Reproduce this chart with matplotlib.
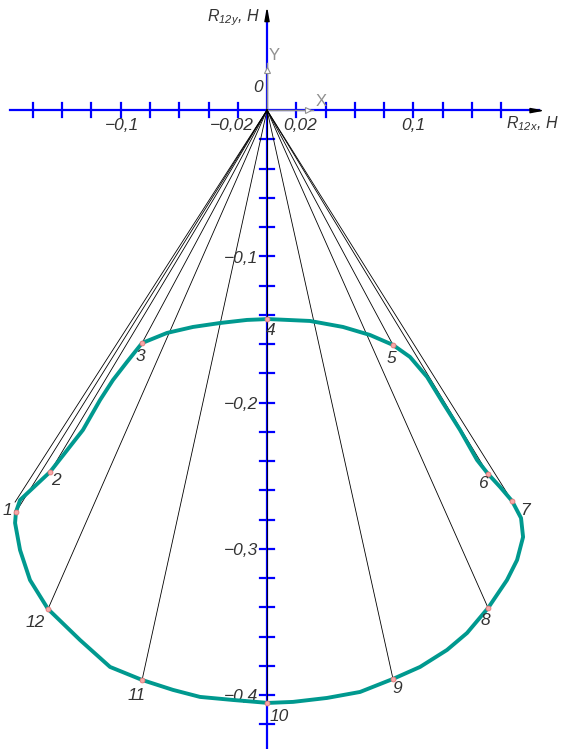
import numpy as np
import matplotlib.pyplot as plt

plt.rcParams['font.family'] = ['Liberation Sans', 'DejaVu Sans']
plt.rcParams['mathtext.fontset'] = 'custom'
plt.rcParams['mathtext.it'] = 'Liberation Sans:italic'
plt.rcParams['mathtext.rm'] = 'Liberation Sans:italic'

# positions 1..12 of the reaction vector end (H)
pt_x = [-0.1716, -0.1483, -0.0854, 0.0, 0.0861, 0.1511,
        0.1675, 0.1511, 0.0861, 0.0, -0.0854, -0.1497]
pt_y = [-0.2748, -0.2474, -0.1593, -0.1429, -0.1606, -0.2488,
        -0.2673, -0.3404, -0.3889, -0.4053, -0.3896, -0.3411]
pt_names = ['1', '2', '3', '4', '5', '6', '7', '8', '9', '10', '11', '12']

# closing position of the cycle (ray without a number)
end_x = -0.1722
end_y = -0.2680

# hodograph outline, traced point by point starting at position 1
curve_x = [-0.1716, -0.1688, -0.1483, -0.1258, -0.1141, -0.1053, -0.0957,
           -0.0854, -0.0684, -0.0506, -0.0321, -0.0137, 0.0007, 0.0294,
           0.0519, 0.0704, 0.0861, 0.0977, 0.1094, 0.1203, 0.1319, 0.1435,
           0.1511, 0.1593, 0.1675, 0.1736, 0.1750, 0.1709, 0.1640, 0.1511,
           0.1367, 0.1230, 0.1046, 0.0861, 0.0636, 0.0410, 0.0178, 0.0007,
           -0.0232, -0.0458, -0.0643, -0.0854, -0.1073, -0.1278, -0.1497,
           -0.1620, -0.1688, -0.1722, -0.1716]
curve_y = [-0.2748, -0.2666, -0.2474, -0.2187, -0.1982, -0.1846, -0.1722,
           -0.1593, -0.1524, -0.1483, -0.1456, -0.1435, -0.1429, -0.1442,
           -0.1483, -0.1538, -0.1606, -0.1688, -0.1825, -0.2003, -0.2187,
           -0.2392, -0.2488, -0.2577, -0.2673, -0.2789, -0.2919, -0.3076,
           -0.3213, -0.3404, -0.3575, -0.3691, -0.3807, -0.3889, -0.3978,
           -0.4019, -0.4046, -0.4053, -0.4033, -0.4012, -0.3964, -0.3896,
           -0.3807, -0.3623, -0.3411, -0.3213, -0.3008, -0.2823, -0.2748]

x_lab_vals = [-0.1, -0.02, 0.02, 0.1]
x_lab_text = ['\u22120,1', '\u22120,02', '0,02', '0,1']
y_lab_vals = [-0.1, -0.2, -0.3, -0.4]
y_lab_text = ['\u22120,1', '\u22120,2', '\u22120,3', '\u22120,4']

# label offsets from the point, in points
lab_off = [(-6, 1), (4, -6), (-1, -10), (3, -8), (-1, -10), (-4, -7),
           (9, -7), (-2, -9), (3, -7), (9, -10), (-4, -11), (-9, -10)]
# horizontal shift of the x labels, in points
x_lab_dx = [1, -4, 3, 0]

fig = plt.figure(figsize=(5.62, 7.49), dpi=100)
ax = fig.add_axes([0, 0, 1, 1])
ax.set_xlim(-0.1825, 0.2016)
ax.set_ylim(-0.4368, 0.0752)
ax.axis('off')

blue = '#0000ff'
grey = '#909090'
ink = '#333333'
tl = 0.0051
fs = 12.5

# axes with division marks every 0.02
ax.plot([-0.1757, 0.186], [0, 0], color=blue, lw=1.6, zorder=2)
ax.plot([0, 0], [0.066, -0.44], color=blue, lw=1.6, zorder=2)
for v in np.arange(-0.16, 0.161, 0.02):
    if abs(v) > 1e-9:
        ax.plot([v, v], [-tl, tl], color=blue, lw=1.6, zorder=2)
for v in np.arange(-0.02, -0.421, -0.02):
    ax.plot([-tl, tl], [v, v], color=blue, lw=1.6, zorder=2)

ax.annotate('', xy=(0.1918, -0.0004), xytext=(0.180, -0.0004),
            arrowprops=dict(arrowstyle='-|>,head_length=0.8,head_width=0.15',
                            color='black', lw=1.0), zorder=3)
ax.annotate('', xy=(0, 0.0725), xytext=(0, 0.060),
            arrowprops=dict(arrowstyle='-|>,head_length=0.8,head_width=0.15',
                            color='black', lw=1.0), zorder=3)

# local coordinate system icon
ax.plot([0, 0], [0, 0.0321], color=grey, lw=1.0, zorder=3)
ax.plot([0, 0.0314], [0, 0], color=grey, lw=1.0, zorder=3)
ax.plot(0.0003, 0.0273, marker='^', ms=5, mfc='white', mec=grey, mew=0.8, zorder=4)
ax.plot(0.028, 0.0003, marker='>', ms=5, mfc='white', mec=grey, mew=0.8, zorder=4)
ax.text(0.0048, 0.0376, 'Y', color=grey, fontsize=12, ha='center', va='center')
ax.text(0.0369, 0.0055, 'X', color=grey, fontsize=12, ha='center', va='center')
ax.text(-0.0062, 0.0157, '0', color=ink, fontsize=fs, style='italic',
        ha='center', va='center')

# rays from the origin
for x, y in zip(pt_x + [end_x], pt_y + [end_y]):
    ax.plot([0, x], [0, y], color='black', lw=0.6, zorder=3)

ax.plot(curve_x, curve_y, color='#00998f', lw=2.8, solid_joinstyle='round',
        solid_capstyle='round', zorder=4)
ax.plot(pt_x, pt_y, 'o', ms=3.5, mfc='#f7a8a8', mec='#e87878', mew=0.6, zorder=5)

for x, y, name, off in zip(pt_x, pt_y, pt_names, lab_off):
    ax.annotate(name, (x, y), xytext=off, textcoords='offset points',
                fontsize=fs, style='italic', color=ink,
                ha='center', va='center', zorder=6)

for v, t, dx in zip(x_lab_vals, x_lab_text, x_lab_dx):
    ax.annotate(t, (v, -0.0109), xytext=(dx, 0), textcoords='offset points',
                fontsize=fs, style='italic', color=ink, ha='center', va='center')
for v, t in zip(y_lab_vals, y_lab_text):
    ax.text(-0.0062, v - 0.0012, t, fontsize=fs, style='italic', color=ink,
            ha='right', va='center')

ax.text(-0.0045, 0.0629, r'$R_{12y},\,H$', fontsize=11.5, color=ink,
        ha='right', va='center')
ax.text(0.1998, -0.0095, r'$R_{12x},\,H$', fontsize=11.5, color=ink,
        ha='right', va='center')

fig.savefig('out.png', dpi=100)
